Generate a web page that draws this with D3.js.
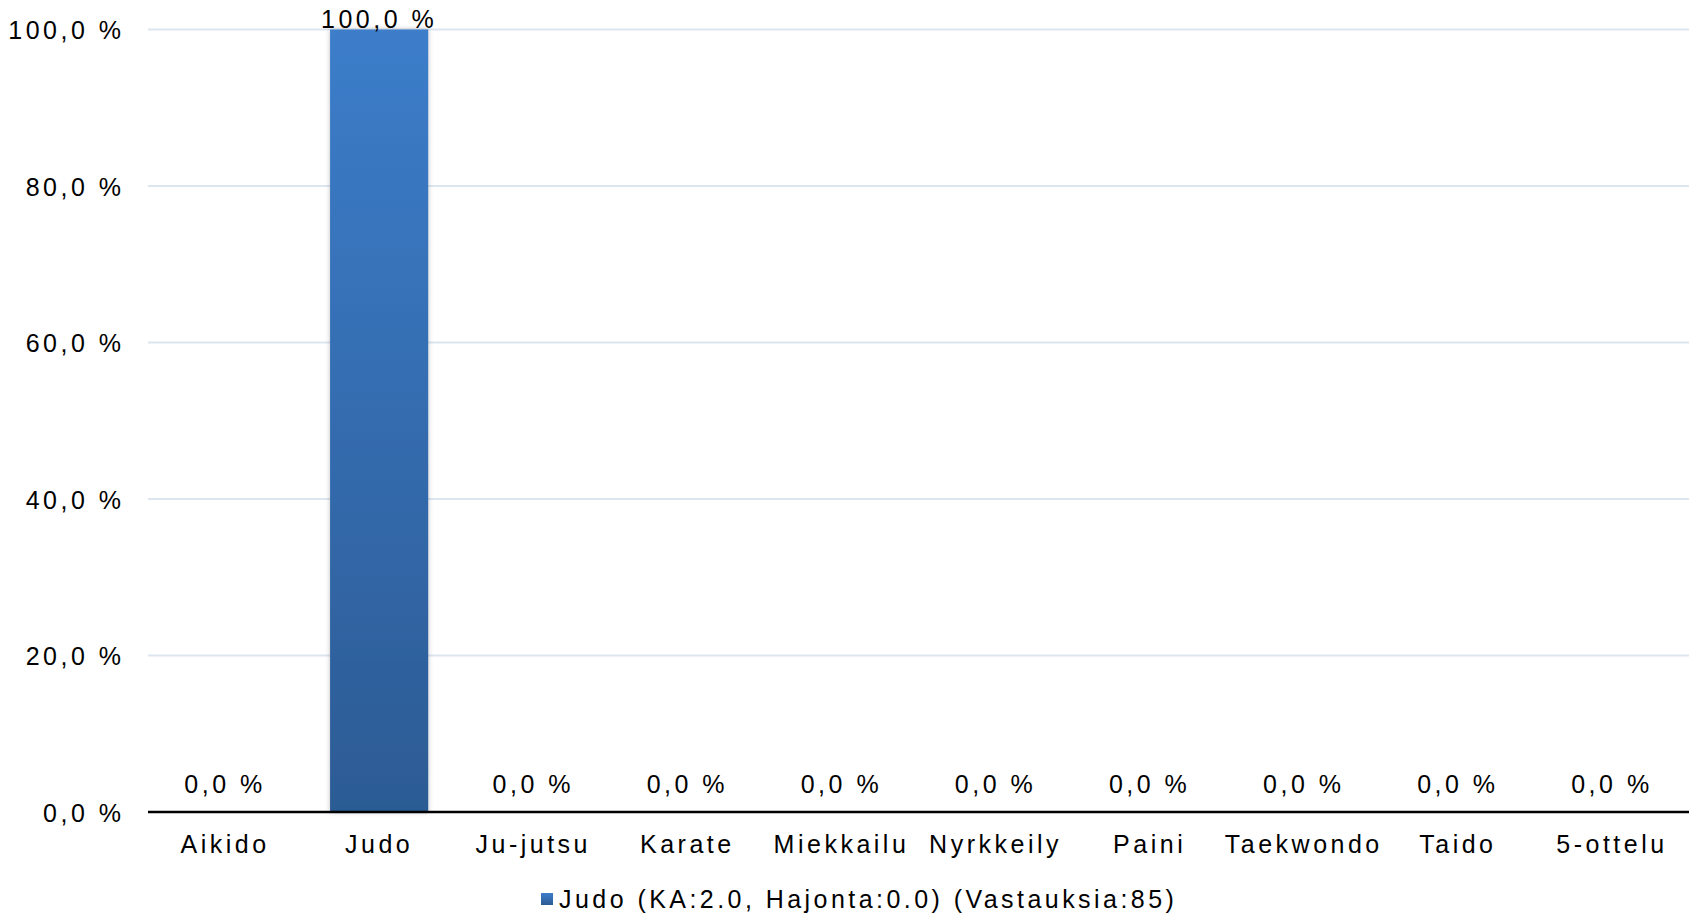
<!DOCTYPE html>
<html>
<head>
<meta charset="utf-8">
<script src="https://cdn.jsdelivr.net/npm/d3@7"></script>
<style>
  html, body { margin: 0; padding: 0; background: #fff; }
  text { font-family: "Liberation Sans", Arial, sans-serif; fill: #000; }
</style>
</head>
<body>
<div id="chart"></div>
<script>
// Datos del gráfico
const categorias = ["Aikido", "Judo", "Ju-jutsu", "Karate", "Miekkailu", "Nyrkkeily", "Paini", "Taekwondo", "Taido", "5-ottelu"];
const valores = [0, 100, 0, 0, 0, 0, 0, 0, 0, 0];
const ticksY = [0, 20, 40, 60, 80, 100];
const leyenda = "Judo (KA:2.0, Hajonta:0.0) (Vastauksia:85)";

const WIDTH = 1698, HEIGHT = 917;
const margin = { top: 29.5, right: 9, bottom: 105, left: 148 };
const FS = 25, LS = 3.5;

const fmt = v => d3.format(".1f")(v).replace(".", ",") + " %";

const svg = d3.select("#chart").append("svg")
  .attr("width", WIDTH)
  .attr("height", HEIGHT);

const defs = svg.append("defs");
const grad = defs.append("linearGradient")
  .attr("id", "bar-grad")
  .attr("x1", "0%").attr("y1", "0%")
  .attr("x2", "0%").attr("y2", "100%");
grad.append("stop").attr("offset", "0%").attr("stop-color", "#3c7dca");
grad.append("stop").attr("offset", "100%").attr("stop-color", "#2c5b94");

const sombra = defs.append("filter").attr("id", "sombra")
  .attr("x", "-10%").attr("y", "-5%").attr("width", "120%").attr("height", "110%");
sombra.append("feDropShadow")
  .attr("dx", 0).attr("dy", 0).attr("stdDeviation", 2.5)
  .attr("flood-color", "#000").attr("flood-opacity", 0.25);

const x = d3.scaleBand()
  .domain(categorias)
  .range([margin.left, WIDTH - margin.right])
  .paddingInner(0.363)
  .paddingOuter(0.1815);

const y = d3.scaleLinear()
  .domain([0, 100])
  .range([HEIGHT - margin.bottom, margin.top]);

// Rejilla
svg.append("g")
  .selectAll("line")
  .data(ticksY.filter(d => d > 0))
  .enter().append("line")
  .attr("x1", margin.left)
  .attr("x2", WIDTH - margin.right)
  .attr("y1", d => y(d))
  .attr("y2", d => y(d))
  .attr("stroke", "#dde6f0")
  .attr("stroke-width", 2);

// Eje Y (solo etiquetas)
const ejeY = d3.axisLeft(y)
  .tickValues(ticksY)
  .tickFormat(fmt)
  .tickSize(0)
  .tickPadding(0);

svg.append("g")
  .attr("transform", `translate(124.5,0)`)
  .call(ejeY)
  .call(g => g.select(".domain").remove())
  .selectAll("text")
  .attr("font-size", FS)
  .attr("letter-spacing", LS)
  .attr("dy", "0.36em")
  .style("font-family", "'Liberation Sans', Arial, sans-serif")
  .attr("fill", "#000");

// Barras
svg.append("g")
  .selectAll("rect")
  .data(valores)
  .enter().append("rect")
  .attr("x", (d, i) => x(categorias[i]))
  .attr("width", x.bandwidth())
  .attr("y", d => y(d))
  .attr("height", d => y(0) - y(d))
  .attr("fill", "url(#bar-grad)")
  .attr("filter", "url(#sombra)");

// Etiquetas de valor (se mantienen dentro del área visible)
svg.append("g")
  .selectAll("text")
  .data(valores)
  .enter().append("text")
  .attr("x", (d, i) => x(categorias[i]) + x.bandwidth() / 2)
  .attr("y", d => Math.max(y(d) - 19, 28))
  .attr("text-anchor", "middle")
  .attr("font-size", FS)
  .attr("letter-spacing", LS)
  .text(d => fmt(d));

// Eje X
const ejeX = d3.axisBottom(x).tickSize(0).tickPadding(0);
const gx = svg.append("g")
  .attr("transform", `translate(0,${y(0)})`)
  .call(ejeX);
gx.select(".domain")
  .attr("stroke", "#000")
  .attr("stroke-width", 2.5)
  .attr("d", `M${margin.left},0H${WIDTH - margin.right}`);
gx.selectAll("text")
  .attr("y", 41)
  .attr("dy", 0)
  .attr("font-size", FS)
  .attr("letter-spacing", LS)
  .style("font-family", "'Liberation Sans', Arial, sans-serif")
  .attr("fill", "#000");

// Leyenda
const leg = svg.append("g").attr("transform", "translate(541,893)");
leg.append("rect")
  .attr("width", 12).attr("height", 12)
  .attr("fill", "url(#bar-grad)");
leg.append("text")
  .attr("x", 18)
  .attr("y", 15)
  .attr("font-size", FS)
  .attr("letter-spacing", 3.45)
  .text(leyenda);
</script>
</body>
</html>
